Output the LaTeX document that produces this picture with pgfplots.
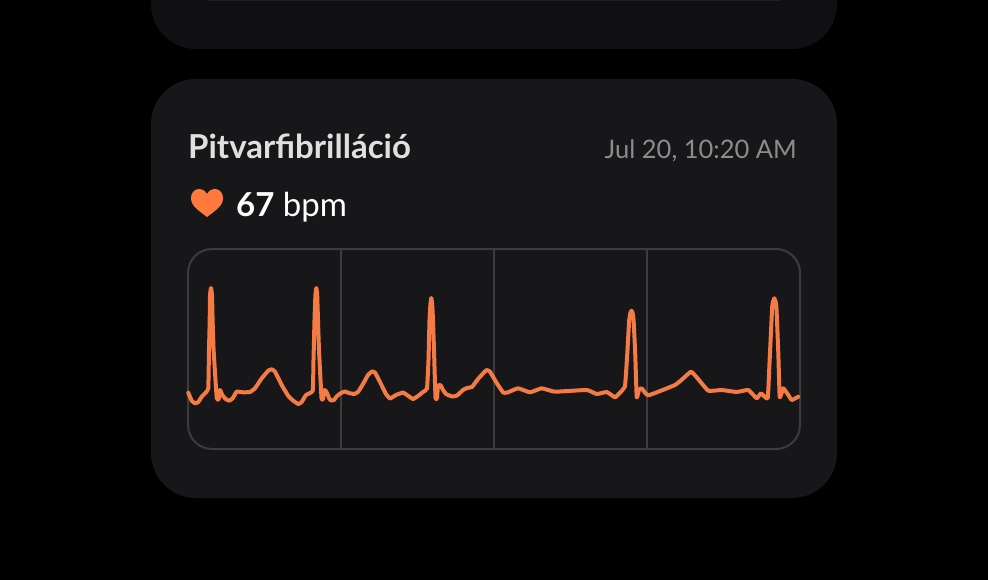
\documentclass[border=0pt]{standalone}
\usepackage{pgfplots}
\pgfplotsset{compat=1.18}
\usepackage{fontspec}
\setmainfont{Lato}
\definecolor{bg}{HTML}{000000}
\definecolor{card}{HTML}{171719}
\definecolor{cardtop}{HTML}{101012}
\definecolor{frameline}{HTML}{3C3C3E}
\definecolor{ecg}{HTML}{F47B43}
\definecolor{heart}{HTML}{FF7A3C}
\pgfplotstableread{
x y
188.3 392.7
191.7 400.7
195 403.3
198.3 402
201.7 396.7
206 392.3
208.3 388
209 350
209.7 320
210 295
211 288
212 295
212.6 320
213.6 350
216.7 398
218.7 399
220 390
222.3 395
225.7 399
229.3 400.7
232.7 398.3
236.7 391.7
243.3 392.3
250 392
255 388.3
261.7 378.3
268.3 370.7
271.7 369.3
275 371.7
281.7 385
288.3 396
293.3 400.7
298.3 404
301.7 402
306 395
312.7 390.7
313.5 360
314.5 320
315.4 295
316.3 288
317.2 295
318 320
319 350
321.5 398
323 399
324.5 390
326.5 392
329.5 399
331 400.5
334 400
337 396
341 393
345 391.5
349 393
354 394
358 392
363 384
368 375
372 371.5
375 372.5
380 382
386 394
390 398.5
396 395
403 392.5
407 395
413 399
418 396
423 392
427 388.5
428.5 360
429.5 320
430.5 303
431.3 298
432.1 303
433 320
434 350
435.5 398
437 398
438 386
440.5 385
443 390
446 394
452 396.5
457 395.5
463 390
467 388
472 387
478 379
484 372.5
486.7 370
490 371.7
496.7 383
503.3 392.7
508 392.3
518 388.3
530 392.3
541.7 388.3
555 391.7
586.7 390
596.7 394
606.7 392
615 397.3
620 392.7
625 386
627.3 353.3
629.2 320
630.4 313
631.5 310.7
632.6 313
633.6 320
635.2 353
636.7 397.3
639 390
641.7 388.3
648.3 395.3
675 385
683.3 378.3
691 371.7
696.7 377.3
708.3 390.7
721.7 390
736.7 392
748.3 390
756.7 398.3
761 393.3
767.7 398.3
769.5 363
772.2 306.7
773.2 301
774.3 298.3
775.4 301
776.4 306.7
778.3 353
779.7 397.3
783.3 388.3
788.3 395
791.7 400
798.3 396.7
}\ecgdata
\begin{document}
\begin{tikzpicture}[x=1pt,y=-1pt]
  \fill[bg] (0,0) rectangle (988,580);
  % the card above, cut off by the top of the picture
  \begin{scope}
    \clip (0,0) rectangle (988,580);
    \fill[cardtop,rounded corners=45pt] (151,-100) rectangle (837,49);
    \fill[white!12!black] (208,0) rectangle (780,1);
  \end{scope}
  \fill[card,rounded corners=45pt] (151,79) rectangle (837,498);
  \node[anchor=base west,inner sep=0pt,text=white!88!black,font=\fontsize{33}{33}\selectfont\bfseries] at (188,159) {Pitvarf{}ibrilláció};
  \node[anchor=base east,inner sep=0pt,text=white!55!black,font=\fontsize{25.5}{25.5}\selectfont] at (797,158.5) {Jul 20, 10:20 AM};
  \fill[heart] (207,217) .. controls (198,210) and (191,206) .. (191,198) .. controls (191,188) and (203,186) .. (207,194) .. controls (211,186) and (223,188) .. (223,198) .. controls (223,206) and (216,210) .. (207,217) -- cycle;
  \node[anchor=base west,inner sep=0pt,text=white,font=\fontsize{33}{33}\selectfont] at (236,217) {\textbf{67} bpm};
  \begin{axis}[
      at={(188pt,-449pt)},anchor=south west,
      width=612pt,height=200pt,scale only axis,
      xmin=188,xmax=800,ymin=249,ymax=449,y dir=reverse,
      xtick={341,494,647},ytick=\empty,xticklabels={},
      major tick length=0pt,
      xmajorgrids,grid style={draw=frameline,line width=2pt},
      axis line style={draw=none},
      clip=false,
    ]
    \draw[frameline,line width=2pt,rounded corners=24pt] (axis cs:188,249) rectangle (axis cs:800,449);
    \addplot[ecg,line width=4pt,line join=round,line cap=round,smooth,tension=0.2] table[x=x,y=y] {\ecgdata};
  \end{axis}
\end{tikzpicture}
\end{document}
